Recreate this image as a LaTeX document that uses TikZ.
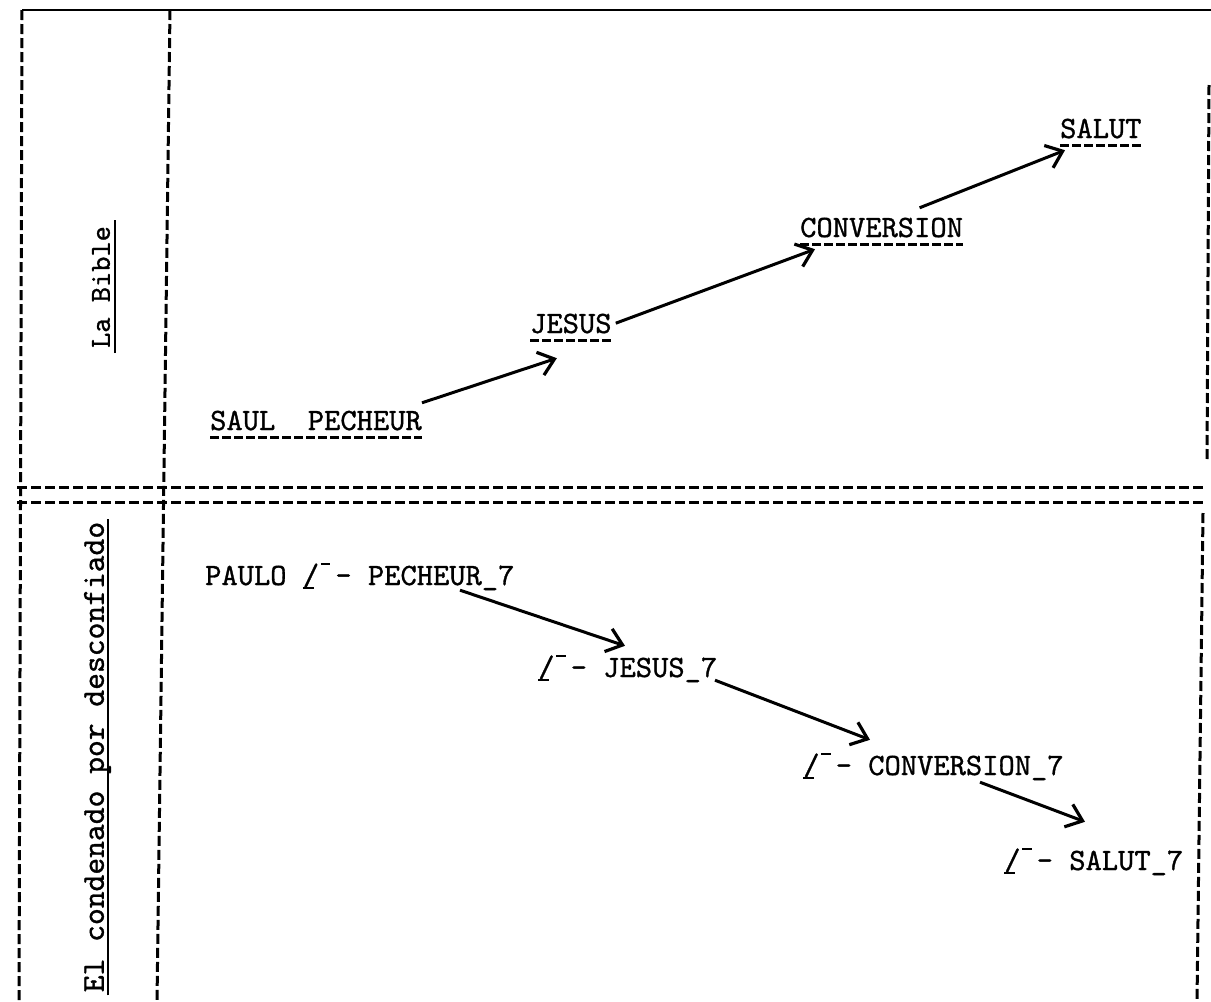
\documentclass[tikz,border=0pt]{standalone}
\usepackage{fontspec}
\newfontfamily\tw{lmmono10-regular.otf}[FakeBold=1.0]
\usetikzlibrary{arrows.meta}
\newcommand\slbr{\rlap{\rule[-0.14em]{0.36em}{0.08em}}/\makebox[0.525em][l]{\hspace{0.06em}\rule[0.64em]{0.3em}{0.08em}}-}
\tikzset{
  bord/.style={line width=3pt, dash pattern=on 10pt off 4pt},
  word/.style={font=\fontsize{31}{36}\selectfont\tw, inner sep=0pt, text height=19pt, text depth=0pt, anchor=base west},
  side/.style={font=\fontsize{#1}{36}\selectfont\tw, inner sep=0pt, text depth=0pt, rotate=90, anchor=south},
  uline/.style={line width=2.6pt, dash pattern=on 9pt off 3pt},
  arr/.style={line width=3pt, -{Straight Barb[length=15pt,width=24pt,line width=3.2pt]}}
}
\begin{document}
\begin{tikzpicture}[x=1pt,y=-1pt]
\useasboundingbox (0,0) rectangle (1211,1002);
% frame
\draw[line width=2.6pt] (22,10) -- (1211,10);
\draw[bord] (22,10) -- (19,1002);
\draw[bord] (170,10) -- (157,1002);
\draw[bord] (17,487) -- (1205,487);
\draw[bord] (17,502) -- (1205,502);
\draw[bord] (1209,85) -- (1207,462);
\draw[bord] (1203,513) -- (1197,1002);
% side labels
\node[side=29] (bible) at (110,287) {La Bible};
\draw[line width=1.8pt] ([xshift=5pt,yshift=-5pt]bible.south west) -- ([xshift=5pt,yshift=6pt]bible.south east);
\node[side=32] (conde) at (104,757) {El condenado por desconfiado};
\draw[line width=1.8pt] ([xshift=4pt,yshift=-3pt]conde.south west) -- ([xshift=4pt,yshift=3pt]conde.south east);
% top section
\node[word] (saul) at (210,430) {SAUL\ \ PECHEUR};
\node[word] (jesus) at (530,333) {JESUS};
\node[word] (conv) at (800,237) {CONVERSION};
\node[word] (salut) at (1060,138) {SALUT};
\foreach \n in {saul,jesus,conv,salut}
  \draw[uline] ([yshift=-7pt]\n.south west) -- ([yshift=-7pt]\n.south east);
\draw[arr] ([yshift=8pt]saul.north east) -- ([xshift=-14pt,yshift=-25pt]jesus.south);
\draw[arr] ([xshift=4pt,yshift=10pt]jesus.south east) -- ([xshift=15pt,yshift=-12pt]conv.south west);
\draw[arr] ([xshift=38pt,yshift=10pt]conv.north) -- ([xshift=5pt,yshift=-12pt]salut.south west);
% bottom section
\node[word] (paulo) at (205,585) {PAULO \slbr{} PECHEUR\_7};
\node[word] (jes2) at (538,677) {\slbr{} JESUS\_7};
\node[word] (conv2) at (803,775) {\slbr{} CONVERSION\_7};
\node[word] (sal2) at (1004,870) {\slbr{} SALUT\_7};
\draw[arr] ([xshift=255pt,yshift=-5pt]paulo.south west) -- ([xshift=87pt,yshift=12pt]jes2.north west);
\draw[arr] ([xshift=177pt,yshift=-3pt]jes2.south west) -- ([xshift=67pt,yshift=16pt]conv2.north west);
\draw[arr] ([xshift=177pt,yshift=-7pt]conv2.south west) -- ([xshift=81pt,yshift=29pt]sal2.north west);
\end{tikzpicture}
\end{document}
